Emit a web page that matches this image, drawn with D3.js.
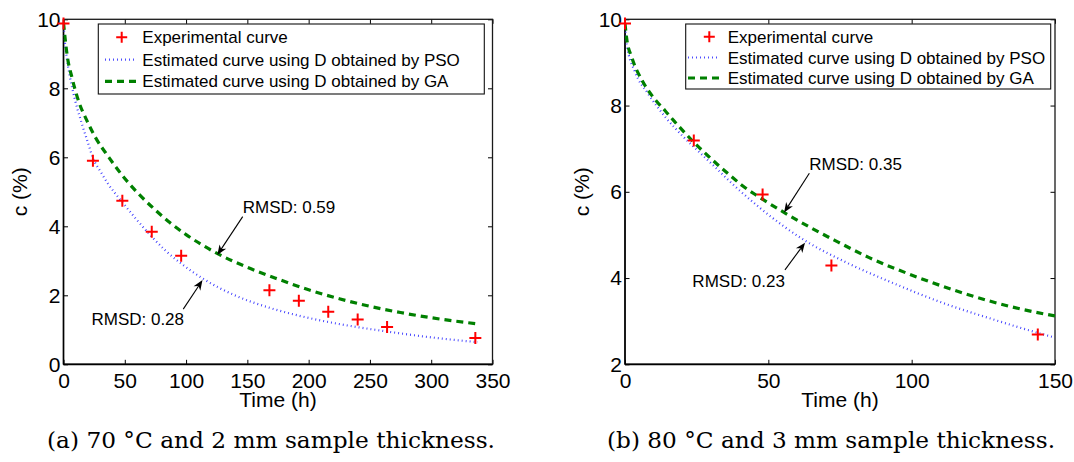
<!DOCTYPE html>
<html>
<head>
<meta charset="utf-8">
<script src="https://cdn.jsdelivr.net/npm/d3@7"></script>
<style>
  body { margin: 0; background: #fff; }
  svg { display: block; }
</style>
</head>
<body>
<svg id="fig" width="1074" height="462"></svg>
<script>
// ---------- Panel (a): 70 °C, 2 mm ----------
const expTimeA = [0, 24, 48, 72, 96, 168, 192, 216, 240, 264, 336];
const expConcA = [9.88, 5.90, 4.74, 3.84, 3.15, 2.15, 1.84, 1.52, 1.30, 1.08, 0.76];
// estimated curves, [time (h), c (%)]
const psoCurveA = [[0, 9.9], [1, 9.4], [3, 8.8], [5, 8.38], [9, 7.72], [15, 6.97], [20, 6.42], [24, 5.98],
  [30, 5.6], [36, 5.25], [48, 4.7], [60, 4.18], [72, 3.70], [84, 3.27], [96, 2.92], [113, 2.50],
  [141, 1.98], [168, 1.64], [192, 1.41], [223, 1.18], [264, 0.95], [305, 0.76], [338, 0.64]];
const gaCurveA = [[0, 9.9], [3, 8.95], [7, 8.3], [12, 7.66], [19, 7.07], [26, 6.58], [37, 6.0], [49, 5.43],
  [61, 4.95], [75, 4.47], [87, 4.1], [100, 3.76], [125, 3.22], [150, 2.81], [175, 2.47], [200, 2.16],
  [225, 1.90], [250, 1.68], [275, 1.50], [300, 1.35], [338, 1.17]];
const xTicksA = [0, 50, 100, 150, 200, 250, 300, 350];
const yTicksA = [0, 2, 4, 6, 8, 10];
const rmsdLabelsA = ["RMSD: 0.59", "RMSD: 0.28"];
const captionA = "(a) 70 °C and 2 mm sample thickness.";

// ---------- Panel (b): 80 °C, 3 mm ----------
const expTimeB = [0, 24, 48, 72, 144];
const expConcB = [9.9, 7.19, 5.94, 4.29, 2.69];
const psoCurveB = [[0, 9.9], [0.6, 9.42], [3.5, 8.78], [8, 8.28], [14, 7.74], [20, 7.30], [24, 7.04],
  [31, 6.6], [38, 6.15], [47, 5.63], [63, 4.86], [76, 4.40], [94, 3.87], [111, 3.42], [128.5, 3.04],
  [145, 2.71], [150, 2.62]];
const gaCurveB = [[0, 9.9], [0.6, 9.55], [2.3, 9.13], [5.8, 8.6], [8, 8.36], [11, 8.1], [14, 7.88],
  [17, 7.65], [20, 7.43], [24, 7.15], [29, 6.83], [33, 6.59], [37, 6.36], [41, 6.14], [46.5, 5.89],
  [56, 5.5], [65, 5.16], [73, 4.88], [85, 4.48], [102, 4.02], [118, 3.65], [135, 3.33], [150, 3.12]];
const xTicksB = [0, 50, 100, 150];
const yTicksB = [2, 4, 6, 8, 10];
const rmsdLabelsB = ["RMSD: 0.35", "RMSD: 0.23"];
const captionB = "(b) 80 °C and 3 mm sample thickness.";

const legendLabels = [
  "Experimental curve",
  "Estimated curve using D obtained by PSO",
  "Estimated curve using D obtained by GA"
];
const xLabel = "Time (h)";
const yLabel = "c (%)";

// ---------- drawing ----------
const SANS = "'Liberation Sans', Arial, Helvetica, sans-serif";
const PSO_STYLE = { stroke: "#3a3aff", width: 2.2, dash: "0.9,3.1" };
const GA_STYLE = { stroke: "#008000", width: 3.2, dash: "7,5" };

const svg = d3.select("#fig");
svg.append("rect").attr("width", 1074).attr("height", 462).attr("fill", "#fff");

const panels = [
  {
    id: "a", left: 63.5, top: 19.3, width: 429, height: 345,
    xDomain: [0, 350], yDomain: [0, 10], xTicks: xTicksA, yTicks: yTicksA,
    expT: expTimeA, expC: expConcA, pso: psoCurveA, ga: gaCurveA,
    legend: { x: 98.3, y: 24, w: 386, h: 70, rows: [37.3, 59.7, 81.3], textX: 142.3, lineX: [105, 139], plusX: 121.7 },
    notes: [
      { text: rmsdLabelsA[0], anchor: "start", at: [146.2, 4.38], tail: [146.2, 4.28], tip: [125.5, 3.17] },
      { text: rmsdLabelsA[1], anchor: "start", at: [22.8, 1.15], tail: [97.7, 1.60], tip: [113.4, 2.44] }
    ],
    yLabelX: 27, caption: captionA, captionX: 47
  },
  {
    id: "b", left: 625, top: 19.3, width: 430, height: 345,
    xDomain: [0, 150], yDomain: [2, 10], xTicks: xTicksB, yTicks: yTicksB,
    expT: expTimeB, expC: expConcB, pso: psoCurveB, ga: gaCurveB,
    legend: { x: 685.7, y: 24, w: 365, h: 65, rows: [36.7, 57.5, 78], textX: 727.7, lineX: [688, 723], plusX: 709.3 },
    notes: [
      { text: rmsdLabelsB[0], anchor: "start", at: [64.3, 6.51], tail: [64.3, 6.43], tip: [55.5, 5.52] },
      { text: rmsdLabelsB[1], anchor: "end", at: [55.8, 3.79], tail: [55.8, 4.19], tip: [62.8, 4.82] }
    ],
    yLabelX: 588.5, caption: captionB, captionX: 607
  }
];

function plusPath(cx, cy, r) {
  return `M${cx - r},${cy}H${cx + r}M${cx},${cy - r}V${cy + r}`;
}

function arrow(g, x1, y1, x2, y2) {
  const dx = x2 - x1, dy = y2 - y1, len = Math.hypot(dx, dy);
  const ux = dx / len, uy = dy / len, nx = -uy, ny = ux;
  const L = 10, W = 4;
  g.append("line")
    .attr("x1", x1).attr("y1", y1)
    .attr("x2", x2 - ux * L * 0.7).attr("y2", y2 - uy * L * 0.7)
    .attr("stroke", "#000").attr("stroke-width", 1.1);
  const bx = x2 - ux * L, by = y2 - uy * L;
  const mx = x2 - ux * L * 0.7, my = y2 - uy * L * 0.7;
  g.append("path")
    .attr("d", `M${x2},${y2}L${bx + nx * W},${by + ny * W}L${mx},${my}L${bx - nx * W},${by - ny * W}Z`)
    .attr("fill", "#000");
}

panels.forEach(p => {
  const x = d3.scaleLinear().domain(p.xDomain).range([p.left, p.left + p.width]);
  const y = d3.scaleLinear().domain(p.yDomain).range([p.top + p.height, p.top]);
  const g = svg.append("g");

  svg.append("clipPath").attr("id", "clip-" + p.id)
    .append("rect").attr("x", p.left).attr("y", p.top).attr("width", p.width).attr("height", p.height);

  const bottom = p.top + p.height, right = p.left + p.width;

  // axes with inward ticks on all four sides
  const axB = g.append("g").attr("transform", `translate(0,${bottom})`)
    .call(d3.axisBottom(x).tickValues(p.xTicks).tickSizeInner(-4.5).tickSizeOuter(0).tickPadding(9));
  const axT = g.append("g").attr("transform", `translate(0,${p.top})`)
    .call(d3.axisTop(x).tickValues(p.xTicks).tickSizeInner(-4.5).tickSizeOuter(0).tickFormat(""));
  const axL = g.append("g").attr("transform", `translate(${p.left},0)`)
    .call(d3.axisLeft(y).tickValues(p.yTicks).tickSizeInner(-4.5).tickSizeOuter(0).tickPadding(3));
  const axR = g.append("g").attr("transform", `translate(${right},0)`)
    .call(d3.axisRight(y).tickValues(p.yTicks).tickSizeInner(-4.5).tickSizeOuter(0).tickFormat(""));

  [axB, axT, axL, axR].forEach(a => {
    a.select(".domain").remove();
    a.selectAll(".tick line").attr("stroke", "#000").attr("stroke-width", 1);
    a.selectAll(".tick text").attr("fill", "#000")
      .style("font-family", SANS).style("font-size", "21px");
  });

  // frame
  g.append("rect").attr("x", p.left).attr("y", p.top).attr("width", p.width).attr("height", p.height)
    .attr("fill", "none").attr("stroke", "#1a1a1a").attr("stroke-width", 1.3);
  g.append("line").attr("x1", p.left).attr("x2", right).attr("y1", bottom).attr("y2", bottom)
    .attr("stroke", "#000").attr("stroke-width", 1.8);
  g.append("line").attr("x1", p.left).attr("x2", p.left).attr("y1", p.top).attr("y2", bottom)
    .attr("stroke", "#000").attr("stroke-width", 1.5);

  // curves
  const line = d3.line().x(d => x(d[0])).y(d => y(d[1])).curve(d3.curveMonotoneX);
  const plot = g.append("g").attr("clip-path", `url(#clip-${p.id})`);
  plot.append("path").datum(p.pso).attr("d", line)
    .attr("fill", "none").attr("stroke", PSO_STYLE.stroke).attr("stroke-width", PSO_STYLE.width)
    .attr("stroke-dasharray", PSO_STYLE.dash);
  plot.append("path").datum(p.ga).attr("d", line)
    .attr("fill", "none").attr("stroke", GA_STYLE.stroke).attr("stroke-width", GA_STYLE.width)
    .attr("stroke-dasharray", GA_STYLE.dash);

  // experimental points
  g.append("g").selectAll("path").data(p.expT.map((t, i) => [t, p.expC[i]])).join("path")
    .attr("d", d => plusPath(x(d[0]), y(d[1]), 6))
    .attr("stroke", "#ff0000").attr("stroke-width", 2).attr("fill", "none");

  // legend
  const L = p.legend;
  const lg = g.append("g");
  lg.append("rect").attr("x", L.x).attr("y", L.y).attr("width", L.w).attr("height", L.h)
    .attr("fill", "#fff").attr("stroke", "#111").attr("stroke-width", 1.1);
  lg.append("path").attr("d", plusPath(L.plusX, L.rows[0], 5.5))
    .attr("stroke", "#ff0000").attr("stroke-width", 2);
  lg.append("line").attr("x1", L.lineX[0]).attr("x2", L.lineX[1] - 3).attr("y1", L.rows[1]).attr("y2", L.rows[1])
    .attr("stroke", PSO_STYLE.stroke).attr("stroke-width", PSO_STYLE.width).attr("stroke-dasharray", PSO_STYLE.dash);
  lg.append("line").attr("x1", L.lineX[0]).attr("x2", L.lineX[1]).attr("y1", L.rows[2]).attr("y2", L.rows[2])
    .attr("stroke", GA_STYLE.stroke).attr("stroke-width", GA_STYLE.width).attr("stroke-dasharray", GA_STYLE.dash);
  lg.selectAll("text.lab").data(legendLabels).join("text")
    .attr("class", "lab")
    .attr("x", L.textX).attr("y", (d, i) => L.rows[i] + 6)
    .style("font-family", SANS).style("font-size", "17px").attr("fill", "#000")
    .text(d => d);

  // RMSD annotations
  const ng = g.append("g");
  p.notes.forEach(n => {
    ng.append("text").attr("x", x(n.at[0])).attr("y", y(n.at[1]))
      .attr("text-anchor", n.anchor)
      .style("font-family", SANS).style("font-size", "17px").attr("fill", "#000")
      .text(n.text);
    arrow(ng, x(n.tail[0]), y(n.tail[1]), x(n.tip[0]), y(n.tip[1]));
  });

  // axis titles
  g.append("text").attr("x", (p.left + right) / 2).attr("y", 407)
    .attr("text-anchor", "middle")
    .style("font-family", SANS).style("font-size", "21px").attr("fill", "#000")
    .text(xLabel);
  g.append("text").attr("transform", `translate(${p.yLabelX},${(p.top + bottom) / 2}) rotate(-90)`)
    .attr("text-anchor", "middle")
    .style("font-family", SANS).style("font-size", "21px").attr("fill", "#000")
    .text(yLabel);

  // sub-caption
  g.append("text").attr("x", p.captionX).attr("y", 448)
    .attr("textLength", 448).attr("lengthAdjust", "spacingAndGlyphs")
    .style("font-family", "'DejaVu Serif', 'Liberation Serif', serif").style("font-size", "22px")
    .attr("fill", "#000")
    .text(p.caption);
});
</script>
</body>
</html>
